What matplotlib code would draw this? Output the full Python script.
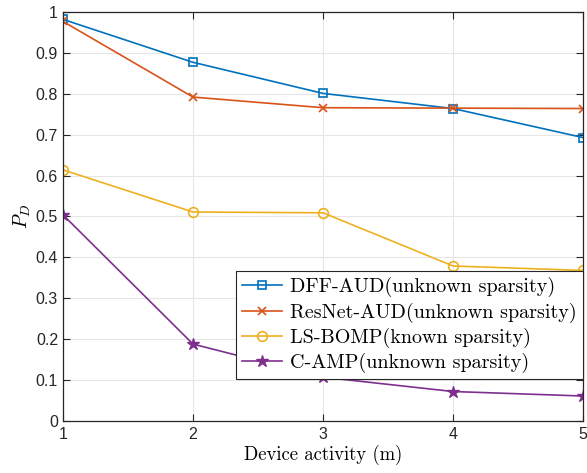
import matplotlib.pyplot as plt

plt.rcParams['mathtext.fontset'] = 'cm'
plt.rcParams['axes.formatter.use_mathtext'] = True

m = [1, 2, 3, 4, 5]
dff = [0.982, 0.877, 0.801, 0.764, 0.693]
resnet = [0.977, 0.792, 0.766, 0.765, 0.764]
lsbomp = [0.614, 0.511, 0.509, 0.379, 0.368]
camp = [0.504, 0.188, 0.107, 0.072, 0.061]

labels = ['DFF-AUD(unknown sparsity)', 'ResNet-AUD(unknown sparsity)',
          'LS-BOMP(known sparsity)', 'C-AMP(unknown sparsity)']

fig = plt.figure(figsize=(5.87, 4.73), dpi=100)
ax = fig.add_axes([0.1073, 0.110, 0.886, 0.8646])

ax.plot(m, dff, '-s', color='#0072BD', lw=1.2, ms=6, mfc='none', mew=1.2, label=labels[0])
ax.plot(m, resnet, '-x', color='#D95319', lw=1.2, ms=6, mew=1.2, label=labels[1])
ax.plot(m, lsbomp, '-o', color='#EDB120', lw=1.2, ms=7, mfc='none', mew=1.2, label=labels[2])
ax.plot(m, camp, '-*', color='#7E2F8E', lw=1.2, ms=9, mew=1.0, label=labels[3])

ax.set_xlim(1, 5)
ax.set_ylim(0, 1)
ax.set_xticks(m)
ax.set_yticks([i / 10 for i in range(11)])
ax.set_yticklabels(['0', '0.1', '0.2', '0.3', '0.4', '0.5', '0.6', '0.7', '0.8', '0.9', '1'])
for lab in ax.get_xticklabels() + ax.get_yticklabels():
    lab.set_fontfamily('Liberation Sans')
    lab.set_fontsize(11.5)
ax.tick_params(direction='in', top=True, right=True, length=5, width=0.8, colors='#262626', labelcolor='#262626')
ax.grid(True, color='#e6e6e6', lw=0.8)
ax.set_axisbelow(True)
for s in ax.spines.values():
    s.set_color('#262626')
    s.set_linewidth(0.9)

ax.set_xlabel('Device activity (m)', family='cmr10', fontsize=13.5, labelpad=2)
ax.set_ylabel('$P_D$', fontsize=14, labelpad=2)

leg = ax.legend(loc='upper right', bbox_to_anchor=(1.0, 0.366), borderaxespad=0,
                fancybox=False, edgecolor='#262626', framealpha=1,
                prop={'family': 'cmr10', 'size': 14.5}, handlelength=2.0,
                borderpad=0.3, labelspacing=0.25, handletextpad=0.4)
leg.get_frame().set_linewidth(0.8)

fig.savefig('out.png', dpi=100)
